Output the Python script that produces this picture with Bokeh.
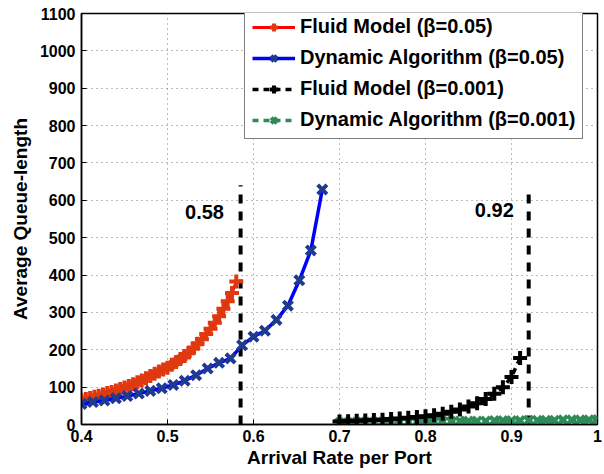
from bokeh.plotting import figure
from bokeh.models import (Range1d, FixedTicker, PrintfTickFormatter, Legend, LegendItem, Label)
from bokeh.embed import file_html
from bokeh.resources import INLINE

# ---- data ----
fluid_a_x = [0.400, 0.405, 0.410, 0.415, 0.420, 0.425, 0.430, 0.435, 0.440, 0.445,
             0.450, 0.455, 0.460, 0.465, 0.470, 0.475, 0.480, 0.485, 0.490, 0.495,
             0.500, 0.505, 0.510, 0.515, 0.520, 0.525, 0.530, 0.535, 0.540, 0.545,
             0.550, 0.555, 0.560, 0.565, 0.570, 0.575, 0.580]
fluid_a_y = [65, 68, 71, 74, 77, 80, 84, 87, 91, 95,
             99, 103, 108, 113, 118, 124, 130, 136, 142, 147,
             152, 160, 167, 175, 183, 193, 204, 216, 228, 242,
             256, 272, 290, 310, 330, 352, 383]

dyn_a_x = [0.4000, 0.4133, 0.4267, 0.4400, 0.4533, 0.4667, 0.4800, 0.4933, 0.5067, 0.5200,
           0.5333, 0.5467, 0.5600, 0.5733, 0.5867, 0.6000, 0.6133, 0.6267, 0.6400, 0.6533,
           0.6667, 0.6800]
dyn_a_y = [55, 60, 64, 70, 76, 83, 90, 97, 106, 117,
           132, 150, 165, 177, 212, 235, 251, 280, 318, 386,
           466, 629]

fluid_b_x = [0.70, 0.71, 0.72, 0.73, 0.74, 0.75, 0.76, 0.77, 0.78, 0.79, 0.80,
             0.81, 0.82, 0.83, 0.84, 0.85, 0.86, 0.87, 0.88, 0.89, 0.90, 0.91]
fluid_b_y = [8, 9, 10, 11, 12, 13, 15, 16, 18, 20, 22,
             25, 29, 34, 40, 48, 57, 68, 82, 100, 127, 178]

dyn_b_x = [0.70, 0.71, 0.72, 0.73, 0.74, 0.75, 0.76, 0.77, 0.78, 0.79, 0.80,
           0.81, 0.82, 0.83, 0.84, 0.85, 0.86, 0.87, 0.88, 0.89, 0.90,
           0.91, 0.92, 0.93, 0.94, 0.95, 0.96, 0.97, 0.98, 0.99, 1.00]
dyn_b_y = [5, 5, 6, 6, 6, 6, 7, 7, 7, 7, 8,
           8, 8, 8, 9, 9, 9, 9, 10, 10, 10,
           10, 11, 11, 11, 11, 12, 12, 12, 12, 13]

thresholds = [0.585, 0.92]
threshold_top = [640, 635]
threshold_labels = ["0.58", "0.92"]
label_x = [0.543, 0.880]
label_y = [569, 573]

x_ticks = [0.4, 0.5, 0.6, 0.7, 0.8, 0.9, 1.0]
y_ticks = list(range(0, 1101, 100))

FONT = "Liberation Sans"

p = figure(width=602, height=472, output_backend="svg", toolbar_location=None,
           x_range=Range1d(0.4, 1.0), y_range=Range1d(0, 1100),
           min_border_left=81, min_border_right=5, min_border_top=13, min_border_bottom=48)

p.background_fill_color = "white"
p.border_fill_color = "white"
p.outline_line_color = "black"
p.outline_line_width = 1.5

for g in (p.xgrid, p.ygrid):
    g.grid_line_color = "#777777"
    g.grid_line_dash = "1 4"
    g.grid_line_width = 1

p.xaxis.ticker = FixedTicker(ticks=x_ticks)
p.yaxis.ticker = FixedTicker(ticks=y_ticks)
p.xaxis.formatter = PrintfTickFormatter(format="%g")
p.xaxis.axis_label = "Arrival Rate per Port"
p.yaxis.axis_label = "Average Queue-length"
for ax in (p.xaxis, p.yaxis):
    ax.axis_line_color = "black"
    ax.axis_line_width = 1.5
    ax.major_tick_in = 5
    ax.major_tick_out = 0
    ax.minor_tick_line_color = None
    ax.major_tick_line_color = "black"
    ax.major_label_text_font = FONT
    ax.major_label_text_font_style = "bold"
    ax.major_label_text_font_size = "16px"
    ax.major_label_text_color = "black"
    ax.axis_label_text_font = FONT
    ax.axis_label_text_font_style = "bold"
    ax.axis_label_text_font_size = "19px"
    ax.axis_label_text_color = "black"
p.xaxis.major_label_standoff = 5
p.xaxis.axis_label_standoff = 2
p.yaxis.major_label_standoff = 6
p.yaxis.axis_label_standoff = 6

# threshold dashed lines
for tx, ty in zip(thresholds, threshold_top):
    p.line([tx, tx], [0, ty], line_color="black", line_width=4, line_dash="9 8")
for lx, ly, lt in zip(label_x, label_y, threshold_labels):
    p.add_layout(Label(x=lx, y=ly, text=lt, text_font=FONT, text_font_style="bold",
                       text_font_size="20px", text_align="center", text_baseline="middle",
                       text_color="black"))

# series
red_line = p.line(fluid_a_x, fluid_a_y, line_color="#ff0000", line_width=3)
red_pts = p.scatter(fluid_a_x, fluid_a_y, marker="cross", size=14, line_width=4,
                    line_color="#e0380f")

blue_line = p.line(dyn_a_x, dyn_a_y, line_color="#0000ff", line_width=3.5)
blue_pts = p.scatter(dyn_a_x, dyn_a_y, marker="x", size=13, line_width=4,
                     line_color="#1f3a8f")

green_line = p.line(dyn_b_x, dyn_b_y, line_color="#2e8b57", line_width=3.5, line_dash="6 5")
green_pts = p.scatter(dyn_b_x, dyn_b_y, marker="x", size=12, line_width=4,
                      line_color="#2e8b57")

black_line = p.line(fluid_b_x, fluid_b_y, line_color="black", line_width=3.5, line_dash="6 5")
black_pts = p.scatter(fluid_b_x, fluid_b_y, marker="cross", size=14, line_width=4,
                      line_color="black")

legend = Legend(items=[
    LegendItem(label="Fluid Model (\u03b2=0.05)", renderers=[red_line, red_pts]),
    LegendItem(label="Dynamic Algorithm (\u03b2=0.05)", renderers=[blue_line, blue_pts]),
    LegendItem(label="Fluid Model (\u03b2=0.001)", renderers=[black_line, black_pts]),
    LegendItem(label="Dynamic Algorithm (\u03b2=0.001)", renderers=[green_line, green_pts]),
], location=(163, 285))
legend.label_text_font = FONT
legend.label_text_font_style = "bold"
legend.label_text_font_size = "20px"
legend.label_text_color = "black"
legend.glyph_width = 43
legend.glyph_height = 20
legend.label_height = 20
legend.spacing = 8
legend.padding = 7
legend.label_standoff = 5
legend.border_line_color = "black"
legend.border_line_width = 1.5
legend.background_fill_alpha = 1.0
legend.margin = 0
p.add_layout(legend, "center")

open("out.html", "w").write(file_html(p, INLINE))
